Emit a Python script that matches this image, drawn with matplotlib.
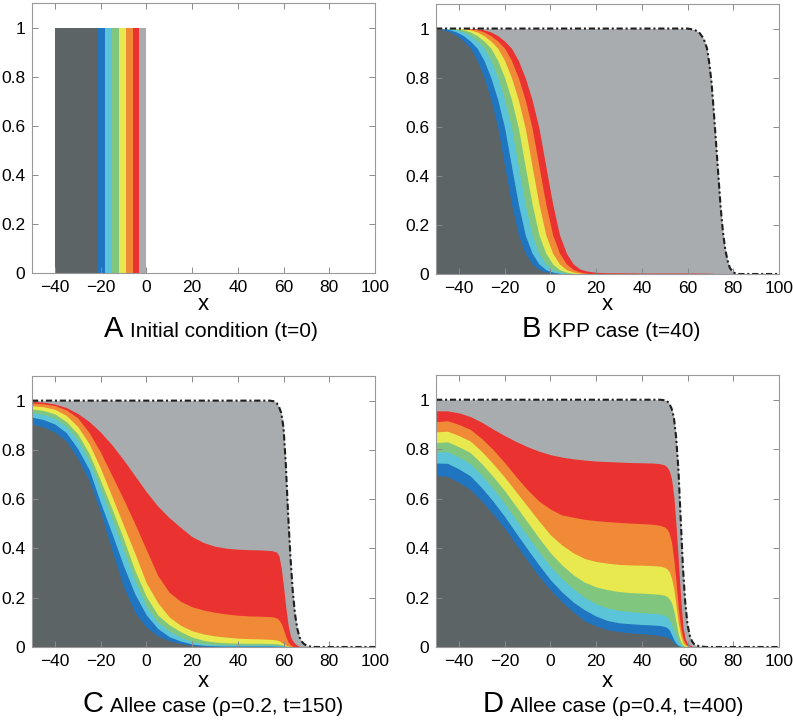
import matplotlib
matplotlib.use('Agg')
import matplotlib.pyplot as plt

plt.rcParams['font.family'] = ['Liberation Sans', 'DejaVu Sans']
plt.rcParams['lines.scale_dashes'] = False

W, H = 793, 722

# colours, bottom layer first
layer_colors = ['#5d6466', '#1f75bf', '#5cc4d9', '#80c67e', '#e8e84f', '#f08a36', '#ea3330']
light_gray = '#a9acae'

x_ticks = [-40, -20, 0, 20, 40, 60, 80, 100]
y_ticks = [0, 0.2, 0.4, 0.6, 0.8, 1]
y_tick_labels = ['0', '0.2', '0.4', '0.6', '0.8', '1']

# ---- A: initial condition, band edges (dark, blue, cyan, green, yellow, orange, red, gray)
a_edges = [-40, -21, -18, -15, -12, -9, -6, -3, 0]

# ---- B: KPP case (t=40), tops of each stacked layer
xb = [-50, -47, -44, -41, -38, -35, -32, -29, -26, -23, -20, -17, -14, -11, -8, -5, -2, 1, 4, 7,
      10, 13, 16, 19, 22, 25, 30, 40, 50, 60, 70, 74, 78]
b_dark = [0.999, 0.995, 0.986, 0.971, 0.949, 0.92, 0.87, 0.80, 0.71, 0.596, 0.44, 0.286, 0.16, 0.085,
          0.041, 0.018, 0.008, 0.003, 0.001, 0, 0, 0, 0, 0, 0, 0, 0, 0, 0, 0, 0, 0, 0]
b_blue = [1.0, 0.999, 0.995, 0.986, 0.971, 0.949, 0.92, 0.87, 0.80, 0.71, 0.596, 0.44, 0.286, 0.16,
          0.085, 0.041, 0.018, 0.008, 0.003, 0.001, 0, 0, 0, 0, 0, 0, 0, 0, 0, 0, 0, 0, 0]
b_cyan = [1.0, 1.0, 0.999, 0.995, 0.986, 0.971, 0.949, 0.92, 0.87, 0.80, 0.71, 0.596, 0.44, 0.286,
          0.16, 0.085, 0.041, 0.018, 0.008, 0.003, 0.001, 0, 0, 0, 0, 0, 0, 0, 0, 0, 0, 0, 0]
b_green = [1.0, 1.0, 1.0, 0.999, 0.995, 0.986, 0.971, 0.949, 0.92, 0.87, 0.80, 0.71, 0.596, 0.44,
           0.286, 0.16, 0.085, 0.041, 0.018, 0.008, 0.003, 0.001, 0, 0, 0, 0, 0, 0, 0, 0, 0, 0, 0]
b_yellow = [1.0, 1.0, 1.0, 1.0, 0.999, 0.995, 0.986, 0.971, 0.949, 0.92, 0.87, 0.80, 0.71, 0.596,
            0.44, 0.286, 0.16, 0.085, 0.041, 0.018, 0.008, 0.003, 0.001, 0, 0, 0, 0, 0, 0, 0, 0, 0, 0]
b_orange = [1.0, 1.0, 1.0, 1.0, 1.0, 0.999, 0.995, 0.986, 0.971, 0.949, 0.92, 0.87, 0.80, 0.71,
            0.596, 0.44, 0.286, 0.16, 0.085, 0.041, 0.018, 0.008, 0.003, 0.001, 0, 0, 0, 0, 0, 0, 0, 0, 0]
b_red = [1.0, 1.0, 1.0, 1.0, 1.0, 1.0, 0.999, 0.995, 0.986, 0.971, 0.949, 0.92, 0.87, 0.80,
         0.71, 0.596, 0.44, 0.286, 0.16, 0.085, 0.041, 0.02, 0.012, 0.008, 0.006,
         0.005, 0.005, 0.004, 0.004, 0.004, 0.003, 0.001, 0]
xb_total = [-50, 60, 63, 65, 67, 68.5, 69.5, 70.5, 71.5, 72.5, 73.5, 74.5, 75.5, 76.5, 77.5, 78.5, 80, 82, 100]
b_total = [1.0, 1.0, 0.995, 0.985, 0.96, 0.92, 0.86, 0.78, 0.66, 0.53, 0.40, 0.27, 0.17, 0.10, 0.055,
           0.025, 0.006, 0.0, 0.0]

# ---- C: Allee case (rho=0.2, t=150)
xc = [-50, -45, -40, -35, -30, -25, -20, -15, -10, -5, 0, 5, 10, 15, 20, 25, 30, 35, 40, 45, 50, 55,
      57, 58, 59, 60, 61, 62, 63, 64, 65, 66, 67, 68, 70]
c_dark = [0.905, 0.893, 0.872, 0.835, 0.765, 0.675, 0.545, 0.39, 0.245, 0.14, 0.08, 0.045, 0.025, 0.014,
          0.007, 0.003, 0.002, 0.001, 0.001, 0, 0, 0, 0, 0, 0, 0, 0, 0, 0, 0, 0, 0, 0, 0, 0]
c_blue = [0.933, 0.923, 0.905, 0.87, 0.805, 0.72, 0.585, 0.46, 0.33, 0.215, 0.13, 0.075, 0.042, 0.024,
          0.012, 0.007, 0.005, 0.004, 0.004, 0.004, 0.004, 0.004, 0.003, 0.003, 0.003, 0.002, 0.002,
          0.001, 0.001, 0, 0, 0, 0, 0, 0]
c_cyan = [0.952, 0.944, 0.928, 0.895, 0.84, 0.755, 0.64, 0.52, 0.395, 0.27, 0.165, 0.10, 0.065, 0.04,
          0.022, 0.013, 0.01, 0.009, 0.008, 0.008, 0.008, 0.008, 0.007, 0.006, 0.005, 0.004, 0.003,
          0.002, 0.001, 0.0005, 0, 0, 0, 0, 0]
c_green = [0.966, 0.96, 0.946, 0.915, 0.865, 0.785, 0.675, 0.56, 0.44, 0.31, 0.205, 0.13, 0.09, 0.062,
           0.04, 0.027, 0.02, 0.017, 0.016, 0.015, 0.015, 0.014, 0.013, 0.012, 0.01, 0.008, 0.005,
           0.003, 0.0015, 0.0005, 0, 0, 0, 0, 0]
c_yellow = [0.98, 0.975, 0.965, 0.94, 0.895, 0.825, 0.725, 0.61, 0.495, 0.38, 0.26, 0.18, 0.122, 0.088,
            0.066, 0.053, 0.045, 0.04, 0.036, 0.034, 0.033, 0.031, 0.028, 0.025, 0.019, 0.013, 0.008,
            0.004, 0.002, 0.001, 0, 0, 0, 0, 0]
c_orange = [0.99, 0.987, 0.98, 0.962, 0.93, 0.87, 0.79, 0.695, 0.60, 0.50, 0.395, 0.29, 0.222, 0.185,
            0.163, 0.15, 0.141, 0.134, 0.129, 0.126, 0.125, 0.123, 0.118, 0.11, 0.095, 0.07, 0.042,
            0.02, 0.009, 0.003, 0.001, 0, 0, 0, 0]
c_red = [0.997, 0.994, 0.986, 0.972, 0.948, 0.915, 0.872, 0.82, 0.76, 0.695, 0.63, 0.572, 0.525, 0.485,
         0.448, 0.424, 0.409, 0.401, 0.397, 0.395, 0.394, 0.391, 0.385, 0.37, 0.32, 0.245, 0.16,
         0.09, 0.045, 0.025, 0.014, 0.007, 0.003, 0.001, 0]
xc_total = [-50, 54, 56, 57, 58, 59, 60, 61, 62, 63, 64, 65, 66, 67, 68, 69, 70, 72, 74, 100]
c_total = [1.0, 1.0, 0.997, 0.99, 0.975, 0.95, 0.89, 0.74, 0.54, 0.37, 0.23, 0.135, 0.075, 0.04, 0.022,
           0.012, 0.006, 0.001, 0.0, 0.0]

# ---- D: Allee case (rho=0.4, t=400)
xd = [-50, -45, -40, -35, -30, -25, -20, -15, -10, -5, 0, 5, 10, 15, 20, 25, 30, 35, 40, 45, 48, 50,
      51, 52, 53, 54, 55, 56, 57, 58, 59, 60, 62, 64]
d_dark = [0.694, 0.69, 0.666, 0.636, 0.59, 0.537, 0.48, 0.414, 0.349, 0.286, 0.231, 0.183, 0.142, 0.105,
          0.085, 0.07, 0.062, 0.057, 0.054, 0.05, 0.046, 0.043, 0.04, 0.035, 0.027, 0.017, 0.009,
          0.004, 0.001, 0, 0, 0, 0, 0]
d_blue = [0.744, 0.743, 0.72, 0.692, 0.644, 0.589, 0.528, 0.461, 0.396, 0.332, 0.272, 0.223, 0.182, 0.15,
          0.125, 0.107, 0.098, 0.094, 0.091, 0.089, 0.087, 0.083, 0.079, 0.07, 0.05, 0.03, 0.015,
          0.007, 0.003, 0.001, 0, 0, 0, 0]
d_cyan = [0.789, 0.79, 0.768, 0.741, 0.695, 0.641, 0.581, 0.515, 0.45, 0.386, 0.326, 0.277, 0.236, 0.2,
          0.175, 0.158, 0.148, 0.143, 0.139, 0.136, 0.134, 0.128, 0.122, 0.11, 0.09, 0.07, 0.045,
          0.022, 0.008, 0.003, 0.001, 0, 0, 0]
d_green = [0.827, 0.83, 0.81, 0.786, 0.741, 0.689, 0.632, 0.569, 0.505, 0.441, 0.381, 0.332, 0.292, 0.262,
           0.243, 0.232, 0.224, 0.22, 0.218, 0.215, 0.213, 0.209, 0.204, 0.195, 0.179, 0.145, 0.1,
           0.05, 0.022, 0.008, 0.002, 0, 0, 0]
d_yellow = [0.87, 0.873, 0.855, 0.833, 0.791, 0.741, 0.687, 0.628, 0.569, 0.51, 0.454, 0.413, 0.381, 0.358,
            0.346, 0.339, 0.334, 0.332, 0.331, 0.329, 0.327, 0.322, 0.316, 0.305, 0.278, 0.235, 0.165,
            0.095, 0.048, 0.018, 0.007, 0.003, 0, 0]
d_orange = [0.911, 0.915, 0.9, 0.88, 0.843, 0.798, 0.746, 0.689, 0.636, 0.59, 0.558, 0.534, 0.525, 0.516,
            0.511, 0.507, 0.504, 0.501, 0.499, 0.496, 0.492, 0.485, 0.477, 0.46, 0.423, 0.355, 0.26,
            0.155, 0.08, 0.035, 0.015, 0.006, 0.001, 0]
d_red = [0.955, 0.955, 0.947, 0.932, 0.909, 0.881, 0.855, 0.831, 0.81, 0.792, 0.778, 0.768, 0.761, 0.756,
         0.752, 0.75, 0.748, 0.746, 0.745, 0.744, 0.741, 0.736, 0.728, 0.714, 0.68, 0.61, 0.49,
         0.345, 0.2, 0.08, 0.033, 0.013, 0.003, 0]
xd_total = [-50, 48, 50, 51, 52, 53, 54, 55, 56, 57, 58, 59, 60, 61, 62, 63, 64, 66, 68, 100]
d_total = [1.0, 1.0, 0.998, 0.995, 0.985, 0.965, 0.93, 0.85, 0.72, 0.52, 0.32, 0.18, 0.09, 0.045, 0.022,
           0.011, 0.006, 0.002, 0.0, 0.0]

captions = [('A', 'Initial condition (t=0)'),
            ('B', 'KPP case (t=40)'),
            ('C', 'Allee case (\u03c1=0.2, t=150)'),
            ('D', 'Allee case (\u03c1=0.4, t=400)')]

# axes boxes in pixels: left, top, right, bottom
boxes = [(32, 3, 375, 273), (436, 4, 779, 274), (32, 376, 375, 647), (436, 375, 779, 647)]
# caption letter right edge, text left edge, baseline (pixels)
cap_pos = [(123, 130, 337), (541, 548, 337), (103, 110, 712), (504, 510, 712)]
xlabel_base = [310, 310, 687, 687]


def style_axis(ax):
    ax.set_xlim(-50, 100)
    ax.set_ylim(0, 1.1)
    ax.set_xticks(x_ticks)
    ax.set_yticks(y_ticks)
    ax.set_yticklabels(y_tick_labels)
    ax.tick_params(direction='in', top=True, right=True, length=4, width=0.7,
                   color='#8a8a8a', labelsize=12.5, pad=5)
    for s in ax.spines.values():
        s.set_color('#999999')
        s.set_linewidth(0.8)


def draw_stack(ax, x, layers, xt, total):
    ax.fill_between(xt, 0, total, color=light_gray, lw=0)
    # draw from the top layer down so neighbouring fills overlap without seams
    for top, col in reversed(list(zip(layers, layer_colors))):
        ax.fill_between(x, 0, top, color=col, lw=0)
    ax.plot(xt, total, color='#1e1e1e', lw=1.5, linestyle=(0, (4.5, 2.0, 1.5, 2.0)))


fig = plt.figure(figsize=(W / 100, H / 100), dpi=100)
axes = []
for (l, t, r, b) in boxes:
    axes.append(fig.add_axes([l / W, 1 - b / H, (r - l) / W, (b - t) / H]))

# panel A
ax = axes[0]
band_colors = layer_colors + [light_gray]
for i, col in enumerate(band_colors):
    ax.fill_between([a_edges[i], a_edges[i + 1]], 0, 1, color=col, lw=0)

draw_stack(axes[1], xb, [b_dark, b_blue, b_cyan, b_green, b_yellow, b_orange, b_red], xb_total, b_total)
draw_stack(axes[2], xc, [c_dark, c_blue, c_cyan, c_green, c_yellow, c_orange, c_red], xc_total, c_total)
draw_stack(axes[3], xd, [d_dark, d_blue, d_cyan, d_green, d_yellow, d_orange, d_red], xd_total, d_total)

for i, ax in enumerate(axes):
    style_axis(ax)
    l, t, r, b = boxes[i]
    fig.text((l + r) / 2 / W, 1 - xlabel_base[i] / H, 'x', ha='center', va='baseline', fontsize=16)
    lx, tx, base = cap_pos[i]
    letter, text = captions[i]
    fig.text(lx / W, 1 - base / H, letter, ha='right', va='baseline', fontsize=21)
    fig.text(tx / W, 1 - base / H, text, ha='left', va='baseline', fontsize=15)

fig.savefig('out.png', dpi=100)
